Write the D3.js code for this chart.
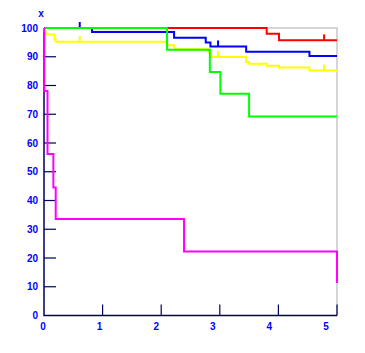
<!DOCTYPE html>
<html>
<head>
<meta charset="utf-8">
<script src="https://cdn.jsdelivr.net/npm/d3@7"></script>
<style>
    body { margin: 0; background: #fff; }
    .lbl { font-family: "Liberation Sans", Arial, sans-serif; font-weight: bold; font-size: 10px; fill: #0000ff; }
</style>
</head>
<body>
<svg id="KMSvg" width="365" height="353"></svg>
<script>
var KMSvg = d3.select("#KMSvg")

// step points: [time, survival %]
var redSteps = [[0, 100], [3.80, 98.0], [4.01, 95.7]]
var blueSteps = [[0, 100], [0.82, 98.6], [2.22, 96.6], [2.76, 95.0], [2.84, 93.6], [3.45, 91.7], [4.53, 90.3]]
var yellowSteps = [[0, 100], [0.005, 98.9], [0.03, 97.7], [0.18, 96.0], [0.2, 95.2], [2.10, 94.0], [2.22, 92.6],
    [2.81, 91.5], [2.85, 89.9], [3.45, 88.2], [3.50, 87.6], [3.80, 86.9], [4.01, 86.3], [4.53, 85.2], [5.0, 84.6]]
var greenSteps = [[0, 100], [2.10, 92.4], [2.83, 84.7], [3.01, 77.1], [3.50, 69.2]]
var magentaSteps = [[0, 100], [0.005, 78.1], [0.06, 56.2], [0.16, 44.5], [0.2, 33.6], [2.39, 22.3], [5.0, 11.3]]

// censor marks (times)
var redCensor = [4.78]
var blueCensor = [0.61, 2.97]
var yellowCensor = [0.61, 2.97, 4.78]

var xTicks = [0, 1, 2, 3, 4, 5]
var yTicks = [0, 10, 20, 30, 40, 50, 60, 70, 80, 90, 100]
var endTime = 5.0

var x = d3.scaleLinear().domain([0, 5]).range([44, 337])
var y = d3.scaleLinear().domain([0, 100]).range([315.5, 28])
var xLabel = d3.scaleLinear().domain([0, 5]).range([43, 326])

// frame (top and right, light gray)
KMSvg.append("path")
    .attr("d", `M${x(0)},${y(100)}H${x(5)}V${y(0)}`)
    .attr("fill", "none")
    .attr("stroke", "#c8c8c8")
    .attr("stroke-width", 1.5)

// y ticks (inside)
KMSvg.selectAll(".ytick").data(yTicks.filter(d => d > 0)).enter().append("line")
    .attr("x1", x(0)).attr("x2", x(0) + 12)
    .attr("y1", d => y(d)).attr("y2", d => y(d))
    .attr("stroke", "#000060").attr("stroke-width", 1.2)
KMSvg.selectAll(".xtick").data(xTicks.filter(d => d > 0)).enter().append("line")
    .attr("x1", d => x(d)).attr("x2", d => x(d))
    .attr("y1", y(0)).attr("y2", y(0) - 11)
    .attr("stroke", "#000060").attr("stroke-width", 1.2)

// axes
KMSvg.append("path")
    .attr("d", `M${x(0)},${y(100)}V${y(0)}H${x(5)}`)
    .attr("fill", "none")
    .attr("stroke", "#000060")
    .attr("stroke-width", 1.5)

// labels
KMSvg.selectAll(".ylbl").data(yTicks).enter().append("text")
    .attr("class", "lbl")
    .attr("x", 38)
    .attr("y", d => y(d) + 3.5)
    .attr("text-anchor", "end")
    .text(d => d)
KMSvg.selectAll(".xlbl").data(xTicks).enter().append("text")
    .attr("class", "lbl")
    .attr("x", d => xLabel(d))
    .attr("y", 329.5)
    .attr("text-anchor", "middle")
    .text(d => d)
KMSvg.append("text")
    .attr("class", "lbl")
    .attr("x", 41)
    .attr("y", 17)
    .attr("text-anchor", "middle")
    .text("x")

function stepValue(steps, t) {
    var v = steps[0][1]
    for (var i = 0; i < steps.length; i++) { if (steps[i][0] <= t) v = steps[i][1] }
    return v
}

function DrawCurve(steps, censor, color) {
    var pts = steps.concat([[endTime, steps[steps.length - 1][1]]])
    var line = d3.line().x(d => x(d[0])).y(d => y(d[1])).curve(d3.curveStepAfter)
    KMSvg.append("path")
        .attr("d", line(pts))
        .attr("fill", "none")
        .attr("stroke", color)
        .attr("stroke-width", 2)
    KMSvg.selectAll(null).data(censor).enter().append("line")
        .attr("x1", d => x(d)).attr("x2", d => x(d))
        .attr("y1", d => y(stepValue(steps, d)))
        .attr("y2", d => y(stepValue(steps, d)) - 6)
        .attr("stroke", color)
        .attr("stroke-width", 2)
}

DrawCurve(redSteps, redCensor, "#ff0000")
DrawCurve(blueSteps, blueCensor, "#0000ff")
DrawCurve(yellowSteps, yellowCensor, "#ffff00")
DrawCurve(greenSteps, [], "#00ff00")
DrawCurve(magentaSteps, [], "#ff00ff")
</script>
</body>
</html>
